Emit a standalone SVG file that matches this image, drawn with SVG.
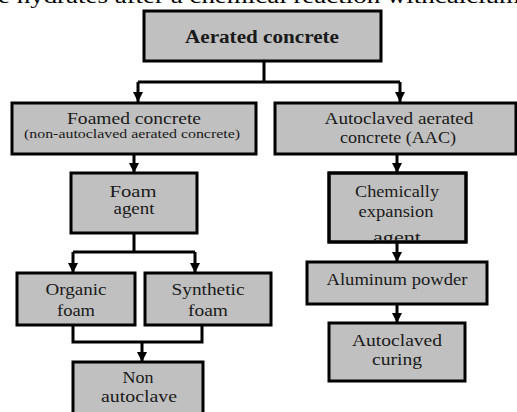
<svg xmlns="http://www.w3.org/2000/svg" width="517" height="412" viewBox="0 0 517 412">
<defs>
<style>
.box{fill:#c0c0c0;stroke:#000;stroke-width:3}
.t{font-family:"Liberation Serif","Times New Roman",serif;font-size:16px;fill:#1a1a1a;text-anchor:middle}
.b{font-weight:bold;font-size:18px}
.s{font-size:12px}
.c{fill:none;stroke:#000;stroke-width:3}
</style>
<marker id="ah" viewBox="0 0 10 10" refX="10" refY="5" markerWidth="10" markerHeight="10" markerUnits="userSpaceOnUse" orient="auto">
<path d="M0,0 L10,5 L0,10 Z" fill="#000"/>
</marker>
<clipPath id="clipChem"><rect x="330" y="174" width="135" height="66.5"/></clipPath>
</defs>
<rect width="517" height="412" fill="#fff"/>
<text x="-2" y="3" font-family="Liberation Serif, serif" font-size="22" fill="#000" textLength="522" lengthAdjust="spacingAndGlyphs">e hydrates after a chemical reaction withcalcium</text>

<g id="connectors">
<path class="c" d="M264,61 V82 M138,82 H400"/>
<path class="c" d="M138,82 V102" marker-end="url(#ah)"/>
<path class="c" d="M400,82 V102" marker-end="url(#ah)"/>
<path class="c" d="M134,154 V173" marker-end="url(#ah)"/>
<path class="c" d="M134,233 V252 M73,252 H195"/>
<path class="c" d="M73,252 V273" marker-end="url(#ah)"/>
<path class="c" d="M195,252 V273" marker-end="url(#ah)"/>
<path class="c" d="M73,325 V342 H202 V325"/>
<path class="c" d="M142,342 V362" marker-end="url(#ah)"/>
<path class="c" d="M397,154 V173" marker-end="url(#ah)"/>
<path class="c" d="M397,242 V262" marker-end="url(#ah)"/>
<path class="c" d="M397,304 V323" marker-end="url(#ah)"/>
</g>

<g id="aerated">
<rect class="box" x="144" y="11" width="237" height="50"/>
<text class="t b" x="262" y="43" textLength="154" lengthAdjust="spacingAndGlyphs">Aerated concrete</text>
</g>
<g id="foamed">
<rect class="box" x="12" y="103" width="244" height="51"/>
<text class="t" x="134" y="124" textLength="134" lengthAdjust="spacingAndGlyphs">Foamed concrete</text>
<text class="t s" x="132" y="138" textLength="216" lengthAdjust="spacingAndGlyphs">(non-autoclaved aerated concrete)</text>
</g>
<g id="aac">
<rect class="box" x="275" y="103" width="241" height="51"/>
<text class="t" x="399" y="124" textLength="149" lengthAdjust="spacingAndGlyphs">Autoclaved aerated</text>
<text class="t" x="398" y="143" textLength="116" lengthAdjust="spacingAndGlyphs">concrete (AAC)</text>
</g>
<g id="foamagent">
<rect class="box" x="71" y="173" width="126" height="60"/>
<text class="t" x="133" y="197" textLength="47" lengthAdjust="spacingAndGlyphs">Foam</text>
<text class="t" x="134" y="214" textLength="41" lengthAdjust="spacingAndGlyphs">agent</text>
</g>
<g id="chemically">
<rect class="box" x="329" y="173" width="137" height="69"/>
<g clip-path="url(#clipChem)">
<text class="t" x="397" y="197" textLength="84" lengthAdjust="spacingAndGlyphs">Chemically</text>
<text class="t" x="396" y="217" textLength="75" lengthAdjust="spacingAndGlyphs">expansion</text>
<text class="t" x="397" y="243" textLength="48" lengthAdjust="spacingAndGlyphs">agent</text>
</g>
<rect x="329" y="173" width="137" height="69" fill="none" stroke="#000" stroke-width="3"/>
</g>
<g id="organic">
<rect class="box" x="17" y="273" width="118" height="52"/>
<text class="t" x="76" y="295" textLength="61" lengthAdjust="spacingAndGlyphs">Organic</text>
<text class="t" x="76" y="316" textLength="38" lengthAdjust="spacingAndGlyphs">foam</text>
</g>
<g id="synthetic">
<rect class="box" x="145" y="273" width="126" height="52"/>
<text class="t" x="208" y="295" textLength="73" lengthAdjust="spacingAndGlyphs">Synthetic</text>
<text class="t" x="208" y="316" textLength="40" lengthAdjust="spacingAndGlyphs">foam</text>
</g>
<g id="nonautoclave">
<rect class="box" x="73" y="362" width="130" height="60"/>
<text class="t" x="138" y="383" textLength="31" lengthAdjust="spacingAndGlyphs">Non</text>
<text class="t" x="139" y="402" textLength="76" lengthAdjust="spacingAndGlyphs">autoclave</text>
</g>
<g id="aluminum">
<rect class="box" x="307" y="262" width="180" height="42"/>
<text class="t" x="397" y="285" textLength="141" lengthAdjust="spacingAndGlyphs">Aluminum powder</text>
</g>
<g id="autoclavedcuring">
<rect class="box" x="329" y="323" width="136" height="58"/>
<text class="t" x="397" y="346" textLength="90" lengthAdjust="spacingAndGlyphs">Autoclaved</text>
<text class="t" x="397" y="365" textLength="50" lengthAdjust="spacingAndGlyphs">curing</text>
</g>
</svg>
